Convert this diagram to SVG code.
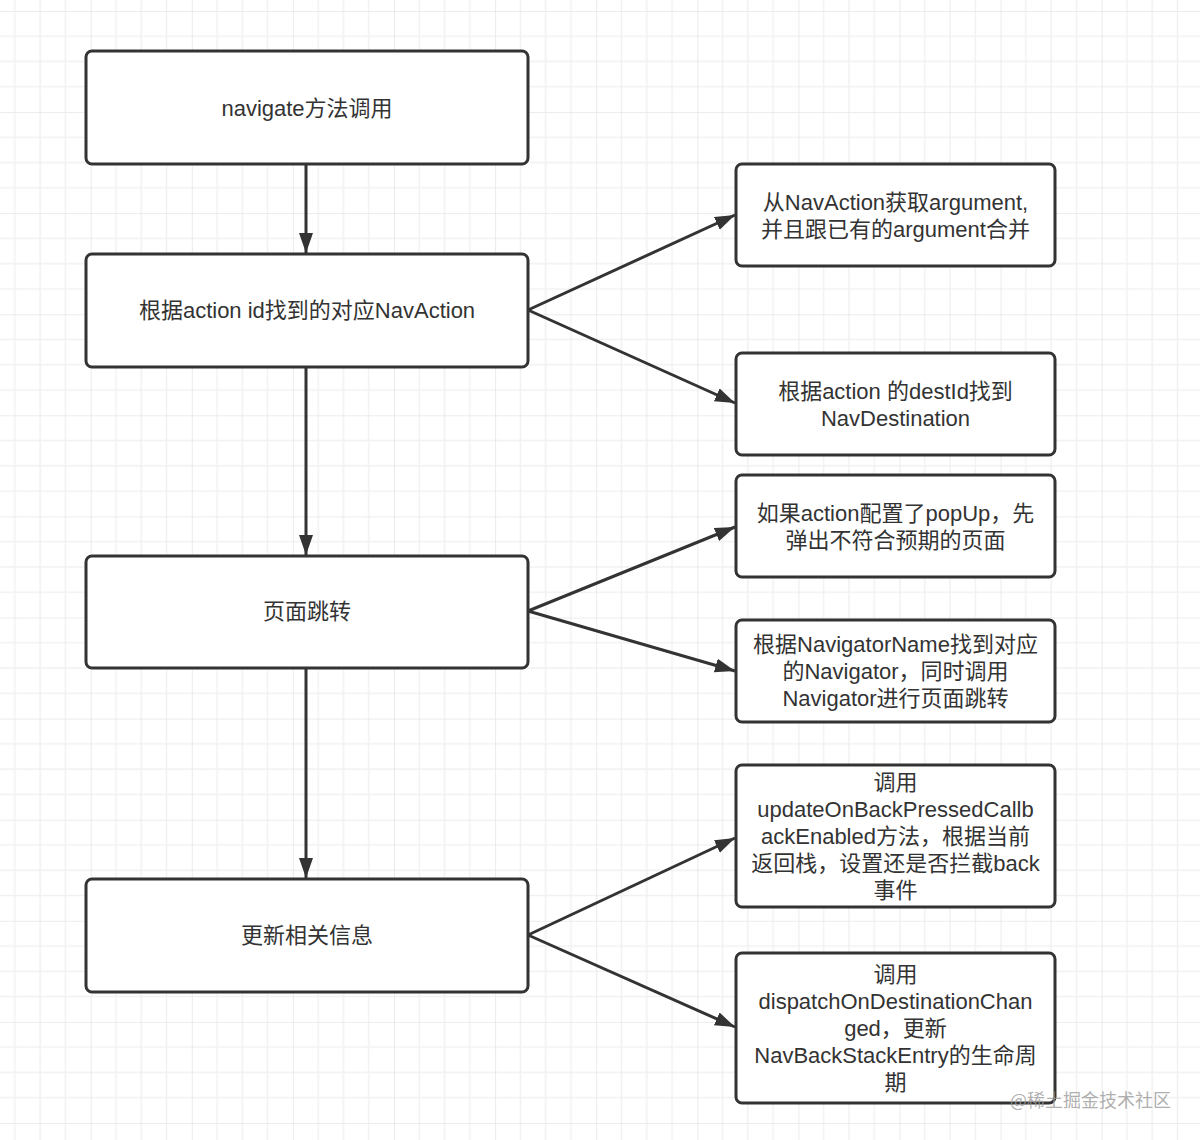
<svg xmlns="http://www.w3.org/2000/svg" width="1200" height="1140" viewBox="0 0 1200 1140">
<defs>
<pattern id="grid" patternUnits="userSpaceOnUse" x="-10.4" y="10.9" width="101.1" height="101.1">
<path d="M25.27 0V101.1M50.55 0V101.1M75.82 0V101.1M0 25.27H101.1M0 50.55H101.1M0 75.82H101.1" stroke="#f1f1f1" stroke-width="1.5" fill="none"/>
<path d="M0 0V101.1M0 0H101.1" stroke="#e6e6e6" stroke-width="1.6" fill="none"/>
</pattern>
<marker id="arr" markerUnits="userSpaceOnUse" markerWidth="22" markerHeight="16" refX="20" refY="7" orient="auto">
<path d="M0 0L20 7L0 14Z" fill="#333"/>
</marker>
</defs>
<style>
.box{fill:#fff;stroke:#333;stroke-width:3}
.t{font-family:"Liberation Sans","Noto Sans CJK SC",sans-serif;font-size:22px;fill:#333;text-anchor:middle}
.c{stroke:#333;stroke-width:3;fill:none;marker-end:url(#arr)}
.wm{font-family:"Noto Sans CJK SC",sans-serif;font-size:18px;fill:#9a9a9a;fill-opacity:0.8}
</style>
<rect width="1200" height="1140" fill="#fff"/>
<rect width="1200" height="1140" fill="url(#grid)"/>

<g id="connectors">
<line class="c" x1="306" y1="164" x2="306" y2="253"/>
<line class="c" x1="306" y1="367" x2="306" y2="555"/>
<line class="c" x1="306" y1="668" x2="306" y2="878"/>
<line class="c" x1="528" y1="310" x2="735" y2="215"/>
<line class="c" x1="528" y1="310" x2="735" y2="403"/>
<line class="c" x1="528" y1="611" x2="735" y2="527"/>
<line class="c" x1="528" y1="611" x2="735" y2="671"/>
<line class="c" x1="528" y1="935" x2="735" y2="838"/>
<line class="c" x1="528" y1="935" x2="735" y2="1027"/>
</g>

<g id="n1"><rect class="box" x="86" y="51" width="442" height="113" rx="6"/>
<text class="t" x="307" y="115.5">navigate方法调用</text></g>
<g id="n2"><rect class="box" x="86" y="254" width="442" height="113" rx="6"/>
<text class="t" x="307" y="317.5">根据action id找到的对应NavAction</text></g>
<g id="n3"><rect class="box" x="86" y="556" width="442" height="112" rx="6"/>
<text class="t" x="307" y="619">页面跳转</text></g>
<g id="n4"><rect class="box" x="86" y="879" width="442" height="113" rx="6"/>
<text class="t" x="307" y="942.5">更新相关信息</text></g>

<g id="r1"><rect class="box" x="736" y="164" width="319" height="102" rx="6"/>
<text class="t" x="895.5" y="209.5">从NavAction获取argument,</text>
<text class="t" x="895.5" y="236.5">并且跟已有的argument合并</text></g>
<g id="r2"><rect class="box" x="736" y="353" width="319" height="102" rx="6"/>
<text class="t" x="895.5" y="398.5">根据action 的destId找到</text>
<text class="t" x="895.5" y="425.5">NavDestination</text></g>
<g id="r3"><rect class="box" x="736" y="475" width="319" height="102" rx="6"/>
<text class="t" x="895.5" y="520.5">如果action配置了popUp，先</text>
<text class="t" x="895.5" y="547.5">弹出不符合预期的页面</text></g>
<g id="r4"><rect class="box" x="736" y="620" width="319" height="102" rx="6"/>
<text class="t" x="895.5" y="652">根据NavigatorName找到对应</text>
<text class="t" x="895.5" y="679">的Navigator，同时调用</text>
<text class="t" x="895.5" y="706">Navigator进行页面跳转</text></g>
<g id="r5"><rect class="box" x="736" y="765" width="319" height="142" rx="6"/>
<text class="t" x="895.5" y="790">调用</text>
<text class="t" x="895.5" y="817">updateOnBackPressedCallb</text>
<text class="t" x="895.5" y="844">ackEnabled方法，根据当前</text>
<text class="t" x="895.5" y="871">返回栈，设置还是否拦截back</text>
<text class="t" x="895.5" y="898">事件</text></g>
<g id="r6"><rect class="box" x="736" y="953" width="319" height="150" rx="6"/>
<text class="t" x="895.5" y="982">调用</text>
<text class="t" x="895.5" y="1009">dispatchOnDestinationChan</text>
<text class="t" x="895.5" y="1036">ged，更新</text>
<text class="t" x="895.5" y="1063">NavBackStackEntry的生命周</text>
<text class="t" x="895.5" y="1090">期</text></g>

<text class="wm" x="1010" y="1107">@稀土掘金技术社区</text>
</svg>
